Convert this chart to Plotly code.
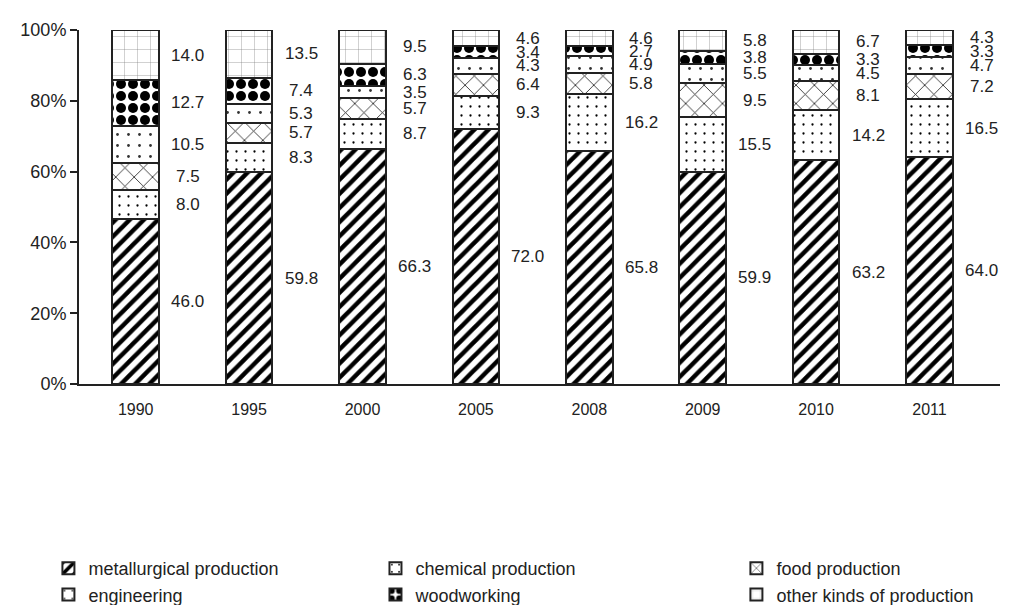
import plotly.graph_objects as go

years = ["1990", "1995", "2000", "2005", "2008", "2009", "2010", "2011"]
metallurgical = [46.0, 59.8, 66.3, 72.0, 65.8, 59.9, 63.2, 64.0]
chemical = [8.0, 8.3, 8.7, 9.3, 16.2, 15.5, 14.2, 16.5]
food = [7.5, 5.7, 5.7, 6.4, 5.8, 9.5, 8.1, 7.2]
engineering = [10.5, 5.3, 3.5, 4.3, 4.9, 5.5, 4.5, 4.7]
woodworking = [12.7, 7.4, 6.3, 3.4, 2.7, 3.8, 3.3, 3.3]
other = [14.0, 13.5, 9.5, 4.6, 4.6, 5.8, 6.7, 4.3]

series = [
    ("metallurgical production", metallurgical, dict(shape="/", size=10, solidity=0.45, fgopacity=1), "legend"),
    ("chemical production", chemical, dict(shape=".", size=9, solidity=0.05, fgopacity=1), "legend2"),
    ("food production", food, dict(shape="x", size=13, solidity=0.12, fgopacity=0.9), "legend3"),
    ("engineering", engineering, dict(shape=".", size=11, solidity=0.05, fgopacity=0.8), "legend"),
    ("woodworking", woodworking, dict(shape=".", size=12, solidity=0.55, fgopacity=1), "legend2"),
    ("other kinds of production", other, dict(shape="+", size=13, solidity=0.05, fgopacity=0.55), "legend3"),
]

FONT = "Liberation Sans, Arial, sans-serif"
fig = go.Figure()
for name, vals, pat, lg in series:
    fig.add_trace(go.Bar(
        x=years, y=vals, name=name, legend=lg,
        marker=dict(color="white", line=dict(color="#222", width=2),
                    pattern=dict(fgcolor="black", bgcolor="white", fillmode="overlay", **pat)),
    ))

annotations = []
for i, yr in enumerate(years):
    total = sum(s[1][i] for s in series)
    cum = 0.0
    for name, vals, pat, lg in series:
        v = vals[i]
        mid = (cum + v / 2) / total * 100
        cum += v
        annotations.append(dict(x=i, xref="x", y=mid, text=f"{v:.1f}", showarrow=False,
                                xshift=52, font=dict(family=FONT, size=17, color="#222")))

leg_common = dict(orientation="v", yref="container", yanchor="bottom", y=0.0,
                  xanchor="left", traceorder="normal",
                  font=dict(family=FONT, size=18, color="#222"), tracegroupgap=0,
                  itemwidth=30, bgcolor="rgba(0,0,0,0)")

fig.update_layout(
    barmode="stack", barnorm="percent", bargap=0.59,
    width=1015, height=605,
    margin=dict(l=64, r=23, t=16, b=229),
    plot_bgcolor="white", paper_bgcolor="white",
    font=dict(family=FONT, size=16, color="#222"),
    annotations=annotations,
    showlegend=True,
    legend=dict(x=-0.0332, **leg_common),
    legend2=dict(x=0.3219, **leg_common),
    legend3=dict(x=0.7138, **leg_common),
    xaxis=dict(type="category", categoryorder="array", categoryarray=years,
               showline=True, linecolor="#222", linewidth=2,
               ticks="outside", ticklen=10, tickcolor="rgba(0,0,0,0)",
               showgrid=False, tickfont=dict(family=FONT, size=16)),
    yaxis=dict(range=[0, 100], dtick=20, ticksuffix="%", showline=True, linecolor="#222",
               linewidth=2, ticks="outside", ticklen=7, tickwidth=2, tickcolor="#222",
               showgrid=False, zeroline=False, tickfont=dict(family=FONT, size=18)),
)

fig.write_html("out.html")
